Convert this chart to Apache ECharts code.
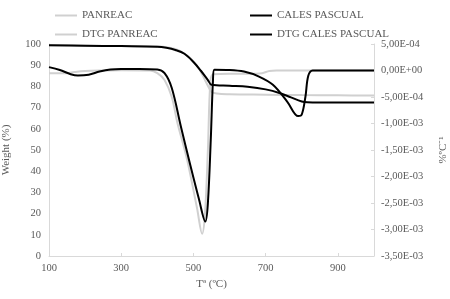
<!DOCTYPE html>
<html>
<head>
<meta charset="utf-8">
<script src="https://cdn.jsdelivr.net/npm/echarts@6/dist/echarts.min.js"></script>
<style>
  html, body { margin: 0; padding: 0; background: #fff; }
  #chart { width: 450px; height: 299px; }
</style>
</head>
<body>
<div id="chart"></div>
<script>
// TG curves (weight %, left axis)
const tgPanreacT = [100, 200, 300, 400, 430, 460, 490, 515, 535, 550, 565, 600, 700, 800, 900, 1000];
const tgPanreacW = [99.4, 99.2, 99.0, 98.8, 98.3, 97.0, 93.5, 88.5, 82.0, 77.5, 76.6, 76.3, 76.1, 75.9, 75.8, 75.7];

const tgCalesT = [100, 200, 300, 400, 425, 450, 475, 500, 520, 540, 550, 600, 650, 700, 740, 770, 800, 815, 850, 900, 1000];
const tgCalesW = [99.4, 99.2, 99.0, 98.7, 98.2, 97.2, 95.4, 91.5, 87.5, 83.0, 80.8, 80.3, 79.8, 78.6, 76.8, 74.8, 72.9, 72.5, 72.4, 72.4, 72.4];

// DTG curves (%/ºC, right axis)
const dtgPanreacT = [100, 150, 170, 200, 250, 300, 380, 400, 420, 440, 455, 482, 510, 524, 532, 540, 547, 555, 600, 650, 690, 710, 730, 800, 1000];
const dtgPanreacV = [-5e-5, -5e-5, -3e-5, -1e-5, 0, 5e-6, 0, -5e-5, -1.8e-4, -5e-4, -9.7e-4, -1.67e-3, -2.6e-3, -3.08e-3, -2.7e-3, -1.5e-3, -2e-4, -7e-5, -6e-5, -6e-5, -5e-5, -1e-5, 0, 0, 0];

const dtgCalesT = [100, 130, 160, 180, 210, 240, 270, 300, 350, 400, 420, 440, 465, 490, 515, 533, 540, 548, 554, 558, 600, 640, 680, 720, 760, 790, 800, 810, 818, 830, 900, 1000];
const dtgCalesV = [6.4e-5, 1e-5, -7e-5, -9.5e-5, -8e-5, -2e-5, 2e-5, 3e-5, 3e-5, 2e-5, -5e-5, -3.3e-4, -1.05e-3, -1.75e-3, -2.42e-3, -2.85e-3, -2.5e-3, -1.3e-3, -2e-4, 1.5e-5, 1e-5, -2e-5, -1.1e-4, -2.7e-4, -5.9e-4, -8.6e-4, -8.3e-4, -5e-4, -1e-4, 0, 0, 0];

const xTicks = [100, 300, 500, 700, 900];

const GRAY = '#d0d0d0';
const TXT = '#595959';
const AXIS = '#d9d9d9';
const FONT = 'Liberation Serif';

const pairs = (xs, ys) => xs.map((x, i) => [x, ys[i]]);

// 5,00E-04 style labels
function sci(v) {
  if (Math.abs(v) < 1e-12) v = 0;
  const p = v.toExponential(2).split('e');
  const e = parseInt(p[1], 10);
  return p[0].replace('.', ',') + 'E' + (e < 0 ? '-' : '+') + (Math.abs(e) < 10 ? '0' : '') + Math.abs(e);
}

function line(name, data, color, axis) {
  return {
    name: name, type: 'line', yAxisIndex: axis, data: data,
    showSymbol: false, smooth: 0.35,
    lineStyle: { color: color, width: 2 }, itemStyle: { color: color }
  };
}

const legendBase = {
  orient: 'vertical', top: 4, itemWidth: 22, itemHeight: 2, itemGap: 6,
  icon: 'rect',
  textStyle: { fontFamily: FONT, fontSize: 11, color: TXT, lineHeight: 13 }
};

const chart = echarts.init(document.getElementById('chart'));
chart.setOption({
  animation: false,
  textStyle: { fontFamily: FONT },
  grid: { left: 49, right: 76, top: 44, bottom: 43, outerBoundsMode: 'none' },
  legend: [
    Object.assign({}, legendBase, { left: 50, data: ['PANREAC', 'DTG PANREAC'] }),
    Object.assign({}, legendBase, { left: 245, data: ['CALES PASCUAL', 'DTG CALES PASCUAL'] })
  ],
  xAxis: {
    type: 'value', min: 100, max: 1000,
    name: 'Tª (ºC)', nameLocation: 'middle', nameGap: 22,
    nameTextStyle: { fontFamily: FONT, fontSize: 11, color: TXT },
    axisLine: { lineStyle: { color: AXIS } },
    axisTick: { show: true, inside: true, length: 3, customValues: xTicks, lineStyle: { color: AXIS } },
    axisLabel: { customValues: xTicks, fontFamily: FONT, fontSize: 10.5, color: TXT, margin: 7 },
    splitLine: { show: false }
  },
  yAxis: [
    {
      type: 'value', min: 0, max: 100, interval: 10,
      name: 'Weight (%)', nameLocation: 'middle', nameGap: 37,
      nameTextStyle: { fontFamily: FONT, fontSize: 11, color: TXT },
      axisLine: { show: true, lineStyle: { color: AXIS } },
      axisTick: { show: false },
      axisLabel: { fontFamily: FONT, fontSize: 10.5, color: TXT, margin: 8 },
      splitLine: { show: false }
    },
    {
      type: 'value', position: 'right', min: -0.0035, max: 0.0005, interval: 0.0005,
      name: '%ºC⁻¹', nameLocation: 'middle', nameGap: 64, nameRotate: 90,
      nameTextStyle: { fontFamily: FONT, fontSize: 11, color: TXT },
      axisLine: { show: true, lineStyle: { color: AXIS } },
      axisTick: { show: true, inside: true, length: 3, lineStyle: { color: AXIS } },
      axisLabel: { formatter: sci, fontFamily: FONT, fontSize: 10.5, color: TXT, margin: 7 },
      splitLine: { show: false }
    }
  ],
  series: [
    line('PANREAC', pairs(tgPanreacT, tgPanreacW), GRAY, 0),
    line('DTG PANREAC', pairs(dtgPanreacT, dtgPanreacV), GRAY, 1),
    line('CALES PASCUAL', pairs(tgCalesT, tgCalesW), '#000', 0),
    line('DTG CALES PASCUAL', pairs(dtgCalesT, dtgCalesV), '#000', 1)
  ]
});
</script>
</body>
</html>
